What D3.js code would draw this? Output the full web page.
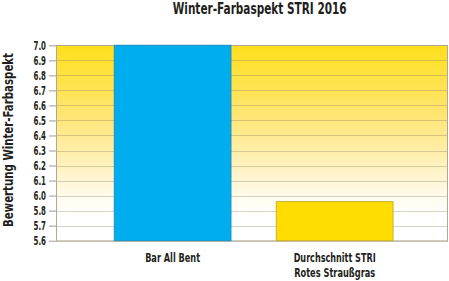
<!DOCTYPE html>
<html>
<head>
<meta charset="utf-8">
<script src="https://cdn.jsdelivr.net/npm/d3@7"></script>
<style>
  body { margin: 0; background: #fff; }
  text { font-family: "DejaVu Sans Condensed", "Liberation Sans Narrow", sans-serif; font-weight: bold; fill: #231f20; }
</style>
</head>
<body>
<div id="chart"></div>
<script>
(function(){
  // categories and values
  const categories = ["Bar All Bent", "Durchschnitt STRI|Rotes Straußgras"];
  const values = [7.0, 5.96];
  const barColors = ["#00aeef", "#ffdd00"];
  const barStrokes = ["#1b8fc0", "#c9ae2a"];
  // tick positions (evenly spaced) and the labels printed on them
  const tickValues = [7.0, 6.9, 6.8, 6.7, 6.6, 6.5, 6.4, 6.3, 6.2, 6.1, 6.0, 5.9, 5.8, 5.7];
  const tickLabels = ["7.0", "6.9", "6.8", "6.7", "6.6", "6.5", "6.4", "6.3", "6.2", "6.1", "6.0", "5.8", "5.7", "5.6"];

  const W = 449, H = 281;
  const plot = { left: 56, right: 448, top: 45.3, bottom: 240.7 };

  const svg = d3.select("#chart").append("svg")
    .attr("width", W)
    .attr("height", H);

  const y = d3.scaleLinear()
    .domain([5.7, 7.0])
    .range([plot.bottom, plot.top]);

  const x = d3.scaleBand()
    .domain(categories)
    .range([114.3, 393])
    .paddingInner(0.28)
    .paddingOuter(0);

  // background gradient
  const grad = svg.append("defs").append("linearGradient")
    .attr("id", "bg")
    .attr("x1", 0).attr("y1", 0).attr("x2", 0).attr("y2", 1);
  [["0", "#ffdf1c"], ["0.38", "#ffe67a"], ["0.62", "#fff2c0"], ["0.78", "#fffbee"], ["0.88", "#ffffff"], ["1", "#ffffff"]]
    .forEach(s => grad.append("stop").attr("offset", s[0]).attr("stop-color", s[1]));

  svg.append("rect")
    .attr("x", plot.left)
    .attr("y", plot.top)
    .attr("width", plot.right - plot.left)
    .attr("height", plot.bottom - plot.top)
    .attr("fill", "url(#bg)");

  // gridlines
  svg.append("g").selectAll("line")
    .data(tickValues)
    .enter().append("line")
    .attr("x1", plot.left)
    .attr("x2", plot.right)
    .attr("y1", d => Math.round(y(d)) + 0.5)
    .attr("y2", d => Math.round(y(d)) + 0.5)
    .attr("stroke", "#8a8060")
    .attr("stroke-opacity", 0.35)
    .attr("stroke-width", 1);

  // plot border
  svg.append("rect")
    .attr("x", plot.left + 0.5)
    .attr("y", Math.round(plot.top) + 0.5)
    .attr("width", plot.right - plot.left - 1)
    .attr("height", plot.bottom - plot.top)
    .attr("fill", "none")
    .attr("stroke", "#b0a890")
    .attr("stroke-width", 1);

  // bars
  svg.append("g").selectAll("rect")
    .data(values)
    .enter().append("rect")
    .attr("x", (d, i) => x(categories[i]))
    .attr("y", d => y(d))
    .attr("width", x.bandwidth())
    .attr("height", d => y(5.7) - y(d))
    .attr("fill", (d, i) => barColors[i])
    .attr("stroke", (d, i) => barStrokes[i])
    .attr("stroke-width", 1);

  // y axis
  const yAxis = svg.append("g")
    .attr("transform", `translate(${plot.left},0)`)
    .call(d3.axisLeft(y)
      .tickValues(tickValues)
      .tickSize(7)
      .tickPadding(3)
      .tickFormat((d, i) => tickLabels[i]));
  yAxis.select(".domain").remove();
  yAxis.selectAll(".tick line").attr("stroke", "#9a9a9a");
  yAxis.selectAll(".tick text")
    .style("font-size", "12.5px")
    .attr("textLength", 12.5)
    .attr("lengthAdjust", "spacingAndGlyphs")
    .attr("fill", "#231f20");

  // x labels
  const labelLengths = [[55], [82, 81]];
  categories.forEach((c, i) => {
    const t = svg.append("text")
      .attr("text-anchor", "middle")
      .style("font-size", "12.5px");
    c.split("|").forEach((line, j) => {
      t.append("tspan")
        .attr("x", x(c) + x.bandwidth() / 2)
        .attr("y", 261.5 + j * 15.5)
        .attr("textLength", labelLengths[i][j])
        .attr("lengthAdjust", "spacingAndGlyphs")
        .text(line);
    });
  });

  // title
  svg.append("text")
    .attr("x", 259.7)
    .attr("y", 14)
    .attr("text-anchor", "middle")
    .attr("textLength", 174)
    .attr("lengthAdjust", "spacingAndGlyphs")
    .style("font-size", "15.5px")
    .text("Winter-Farbaspekt STRI 2016");

  // y axis title
  svg.append("text")
    .attr("transform", `translate(13,${(53 + 227) / 2}) rotate(-90)`)
    .attr("text-anchor", "middle")
    .attr("textLength", 174)
    .attr("lengthAdjust", "spacingAndGlyphs")
    .style("font-size", "14.5px")
    .text("Bewertung Winter-Farbaspekt");
})();
</script>
</body>
</html>
